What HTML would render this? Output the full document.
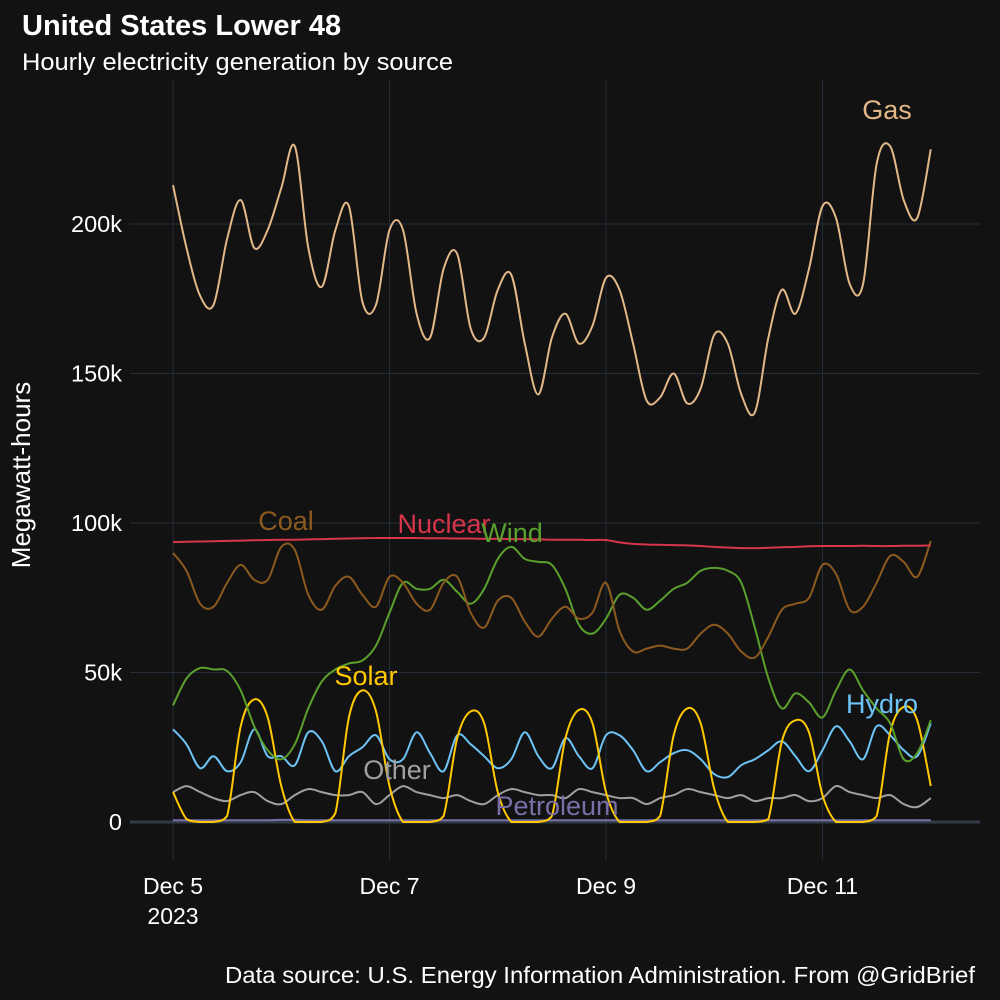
<!DOCTYPE html>
<html><head><meta charset="utf-8"><style>
html,body{margin:0;padding:0;background:#121212;}
svg{display:block;font-family:"Liberation Sans",Arial,sans-serif;}
</style></head><body>
<svg id="chart" width="1000" height="1000" viewBox="0 0 1000 1000" xmlns="http://www.w3.org/2000/svg">
<rect width="1000" height="1000" fill="#121212"/>
<text x="22" y="35" fill="#ffffff" font-size="29" font-weight="bold">United States Lower 48</text>
<text x="22" y="70" fill="#ffffff" font-size="24.5" textLength="431" lengthAdjust="spacingAndGlyphs">Hourly electricity generation by source</text>
<text transform="translate(30,475) rotate(-90)" text-anchor="middle" fill="#ffffff" font-size="26">Megawatt-hours</text>
<text x="975" y="983" text-anchor="end" fill="#ffffff" font-size="23" textLength="750" lengthAdjust="spacingAndGlyphs">Data source: U.S. Energy Information Administration. From @GridBrief</text>
<g id="grid"></g>
<g id="axes"></g>
<g id="series"></g>
<g id="labels"></g>
</svg>
<script>
// Data: thousands of MWh, sampled every 3 hours from Dec 5 00:00
const stepHours = 3;
const yTicks = [0, 50, 100, 150, 200];
const yTickLabels = ["0", "50k", "100k", "150k", "200k"];
const xTickDays = [0, 2, 4, 6];
const xTickLabels = ["Dec 5", "Dec 7", "Dec 9", "Dec 11"];
const gas = [213,192,176,173,195,208,192,198,212,226,192,179,198,206,174,173,198,198,170,162,185,190,165,162,178,183,160,143,162,170,160,166,182,178,160,141,142,150,140,145,163,160,143,137,162,178,170,185,206,202,180,180,220,226,208,202,225];
const coal = [90,84,73,72,80,86,81,81,92,91,76,71,79,82,76,72,82,80,73,71,80,82,70,65,74,75,67,62,68,72,68,70,80,64,57,58,59,58,58,63,66,63,57,55,62,71,73,75,86,83,71,72,80,89,87,82,94];
const nuclear = [93.6,93.7,93.8,93.9,94,94.1,94.2,94.3,94.4,94.4,94.5,94.6,94.7,94.8,94.9,95,95,95,95,94.9,94.9,94.8,94.8,94.7,94.7,94.6,94.6,94.5,94.4,94.4,94.4,94.3,94.3,93.5,93,92.8,92.7,92.6,92.5,92.3,92,91.8,91.6,91.6,91.7,91.9,92,92.2,92.3,92.3,92.3,92.4,92.3,92.3,92.4,92.4,92.5];
const wind = [39,48,51.5,51,50.5,44,32,24,21,26,38,47,51,53,54,59,70,80,78,78,81,77,73,78,88,92,88,87,86,78,66,63,68,76,75,71,74,78,80,84,85,84,80,65,48,38,43,40,35,44,51,44,38,33,21,23,34];
const solar = [10,1,0,0,2,32,41,35,12,0,0,0,3,35,44,37,12,0,0,0,2,28,37,33,10,0,0,0,2,28,37.5,33,10,0,0,0,2,29,38,33,11,0,0,0,1,27,34,30,9,0,0,0,2,30,38.5,34,12];
const hydro = [31,26,18,22,17,20,31,22,22,19,30,27,17,22,25,29,21,21,30,23,17,29,26,22,18,21,30,22,18,28,22,18,29,29,24,17,20,23,24,21,16,15,19,21,24,27,22,17,24,32,27,21,32,29,24,22,33];
const other = [10,12,10,8,7,9,10,7,6,9,11,10,9,9,10,6,9,12,10,9,8,9,7,6,9,11,10,9,9,8,11,10,9,8,8,6,8,9,11,10,9,8,9,7,8,8,9,7,8,12,10,9,8,9,6,5,8];
const petroleum = [0.6,0.6,0.6,0.6,0.6,0.6,0.6,0.6,0.7,0.7,0.6,0.6,0.6,0.6,0.6,0.6,0.6,0.6,0.6,0.6,0.6,0.6,0.6,0.6,0.6,0.6,0.6,0.6,0.6,0.6,0.6,0.6,0.6,0.6,0.6,0.6,0.6,0.6,0.6,0.6,0.6,0.6,0.6,0.6,0.6,0.6,0.6,0.6,0.6,0.6,0.6,0.6,0.6,0.6,0.6,0.6,0.6];

const NS = "http://www.w3.org/2000/svg";
const X0 = 173, PX_PER_DAY = 108.25;
const Y0 = 822, PX_PER_K = 2.99;
function xScale(hours){ return X0 + hours / 24 * PX_PER_DAY; }
function yScale(v){ return Y0 - v * PX_PER_K; }
function mk(tag, attrs, parent){
  const el = document.createElementNS(NS, tag);
  for (const k in attrs) el.setAttribute(k, attrs[k]);
  parent.appendChild(el);
  return el;
}
const grid = document.getElementById('grid');
const axes = document.getElementById('axes');
const seriesG = document.getElementById('series');
const labelsG = document.getElementById('labels');

yTicks.forEach((t, i) => {
  const y = yScale(t);
  const ln = mk('line', {x1:130, x2:980, y1:y, y2:y, stroke:'#252d3a', 'stroke-width':1}, grid);
  
  
  const tx = mk('text', {x:122, y:y+8, 'text-anchor':'end', fill:'#ffffff', 'font-size':23.5}, axes);
  tx.textContent = yTickLabels[i];
  
  
});
xTickDays.forEach((d, i) => {
  const x = xScale(d * 24);
  const ln = mk('line', {x1:x, x2:x, y1:80, y2:860, stroke:'#252d3a', 'stroke-width':1}, grid);
  
  
  const tx = mk('text', {x:x, y:894, 'text-anchor':'middle', fill:'#ffffff', 'font-size':23}, axes);
  tx.textContent = xTickLabels[i];
  
  
});
const yr = mk('text', {x:xScale(0), y:924, 'text-anchor':'middle', fill:'#ffffff', 'font-size':23}, axes);
yr.textContent = '2023';


const zl = mk('line', {x1:130, x2:980, y1:yScale(0), y2:yScale(0), stroke:'#323a48', 'stroke-width':3}, grid);



function pathFor(vals){
  const pts = vals.map((v, i) => [xScale(i * stepHours), yScale(v)]);
  let d = 'M' + pts[0][0].toFixed(1) + ',' + pts[0][1].toFixed(1);
  for (let i = 0; i < pts.length - 1; i++){
    const p0 = pts[Math.max(0, i-1)], p1 = pts[i], p2 = pts[i+1], p3 = pts[Math.min(pts.length-1, i+2)];
    let c1y = p1[1] + (p2[1]-p0[1])/6, c2y = p2[1] - (p3[1]-p1[1])/6;
    c1y = Math.min(c1y, Y0); c2y = Math.min(c2y, Y0);
    d += ' C' + (p1[0]+(p2[0]-p0[0])/6).toFixed(1) + ',' + c1y.toFixed(1) + ' ' +
         (p2[0]-(p3[0]-p1[0])/6).toFixed(1) + ',' + c2y.toFixed(1) + ' ' +
         p2[0].toFixed(1) + ',' + p2[1].toFixed(1);
  }
  return d;
}
function drawSeries(vals, color, name){
  const p = mk('path', {d:pathFor(vals), fill:'none', stroke:color, 'stroke-width':2, 'stroke-linejoin':'round'}, seriesG);
  
  
}
drawSeries(petroleum, '#7b6ea6', 'petroleum-line');
drawSeries(other, '#a0a0a0', 'other-line');
drawSeries(hydro, '#6ec3f5', 'hydro-line');
drawSeries(solar, '#ffc800', 'solar-line');
drawSeries(wind, '#5aa02c', 'wind-line');
drawSeries(coal, '#8c5a1e', 'coal-line');
drawSeries(nuclear, '#d7354b', 'nuclear-line');
drawSeries(gas, '#e3b888', 'gas-line');

function label(txt, x, y, color, name){
  const t = mk('text', {x:x, y:y, 'text-anchor':'middle', fill:color, 'font-size':27}, labelsG);
  t.textContent = txt;
  
  
}
label('Gas', 887, 119, '#e3b888', 'gas-label');
label('Coal', 286, 530, '#8c5a1e', 'coal-label');
label('Nuclear', 444, 533, '#d7354b', 'nuclear-label');
label('Wind', 512, 542, '#5aa02c', 'wind-label');
label('Solar', 366, 685, '#ffc800', 'solar-label');
label('Hydro', 882, 713, '#6ec3f5', 'hydro-label');
label('Other', 397, 779, '#a0a0a0', 'other-label');
label('Petroleum', 557, 815, '#7b6ea6', 'petroleum-label');
</script>
</body></html>
